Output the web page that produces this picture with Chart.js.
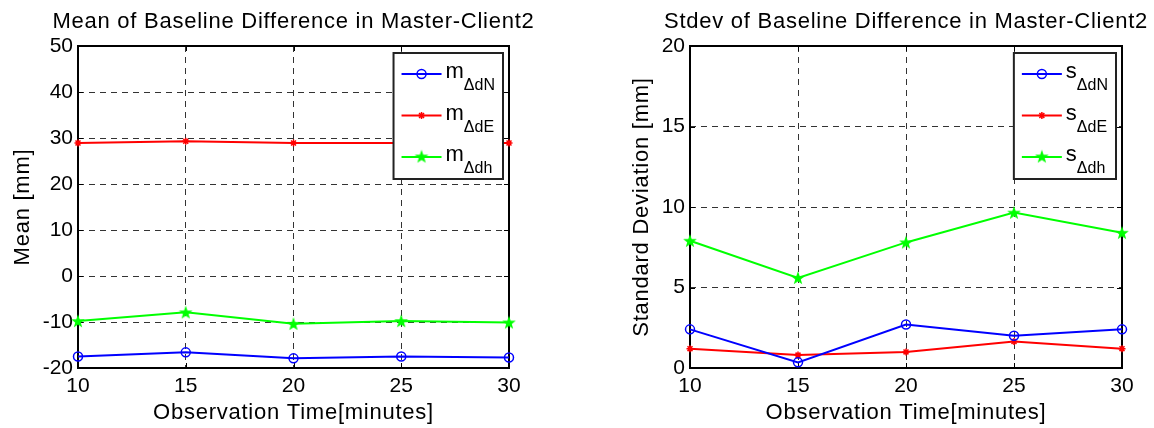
<!DOCTYPE html>
<html>
<head>
<meta charset="utf-8">
<script src="https://cdn.jsdelivr.net/npm/chart.js@4/dist/chart.umd.min.js"></script>
<style>
  body { margin: 0; background: #fff; width: 1154px; height: 428px; overflow: hidden; position: relative; }
  canvas { position: absolute; top: 0; }
  #meanChart { left: 0; }
  #stdChart { left: 600px; }
</style>
</head>
<body>
<canvas id="meanChart" width="600" height="428" style="width:600px;height:428px"></canvas>
<canvas id="stdChart" width="554" height="428" style="width:554px;height:428px"></canvas>
<script>
// observation times (x axis)
const minutes = [10, 15, 20, 25, 30];

// mean of baseline difference [mm]
const meanN = [-17.5, -16.6, -17.9, -17.5, -17.7];
const meanE = [28.9, 29.3, 28.9, 28.9, 28.9];
const meanH = [-9.8, -7.9, -10.4, -9.8, -10.1];

// standard deviation of baseline difference [mm]
const stdN = [2.4, 0.35, 2.7, 2.0, 2.4];
const stdE = [1.2, 0.8, 1.0, 1.65, 1.2];
const stdH = [7.9, 5.6, 7.8, 9.65, 8.4];

const meanTicks = [-20, -10, 0, 10, 20, 30, 40, 50];
const stdTicks = [0, 5, 10, 15, 20];
const timeTicks = [10, 15, 20, 25, 30];

const FONT = '"Liberation Sans", Arial, Helvetica, sans-serif';

// filled green pentagram used as marker
function makeStar(color) {
    const c = document.createElement("canvas");
    c.width = 16; c.height = 16;
    const g = c.getContext("2d");
    g.beginPath();
    for (let i = 0; i < 10; i++) {
        const r = i % 2 === 0 ? 7.2 : 2.9;
        const ang = -Math.PI / 2 + i * Math.PI / 5;
        const px = 8 + r * Math.cos(ang), py = 8.5 + r * Math.sin(ang);
        if (i === 0) g.moveTo(px, py); else g.lineTo(px, py);
    }
    g.closePath();
    g.fillStyle = color;
    g.fill();
    return c;
}
const starImg = makeStar("#00ff00");

function drawMarker(ctx, kind, x, y, color) {
    ctx.save();
    ctx.strokeStyle = color;
    if (kind === "circle") {
        ctx.lineWidth = 1.5;
        ctx.beginPath();
        ctx.arc(x, y, 4.5, 0, Math.PI * 2);
        ctx.stroke();
    } else if (kind === "asterisk") {
        ctx.lineWidth = 1.5;
        const r = 3.5, d = r * Math.SQRT1_2;
        ctx.beginPath();
        ctx.moveTo(x - r, y); ctx.lineTo(x + r, y);
        ctx.moveTo(x, y - r); ctx.lineTo(x, y + r);
        ctx.moveTo(x - d, y - d); ctx.lineTo(x + d, y + d);
        ctx.moveTo(x - d, y + d); ctx.lineTo(x + d, y - d);
        ctx.stroke();
    } else {
        ctx.drawImage(starImg, x - 8, y - 8.5);
    }
    ctx.restore();
}

const decor = {
    id: "decor",
    beforeDatasetsDraw(chart, args, o) {
        const { ctx, chartArea: a } = chart;
        ctx.save();
        ctx.strokeStyle = "#000";
        ctx.lineWidth = 2;
        ctx.strokeRect(a.left, a.top, a.right - a.left, a.bottom - a.top);
        ctx.lineWidth = 1;
        ctx.beginPath();
        chart.scales.x.ticks.forEach(t => {
            const x = Math.round(chart.scales.x.getPixelForValue(t.value)) + 0.5;
            ctx.moveTo(x, a.bottom); ctx.lineTo(x, a.bottom - 5);
            ctx.moveTo(x, a.top); ctx.lineTo(x, a.top + 5);
        });
        chart.scales.y.ticks.forEach(t => {
            const y = Math.round(chart.scales.y.getPixelForValue(t.value)) + 0.5;
            ctx.moveTo(a.left, y); ctx.lineTo(a.left + 5, y);
            ctx.moveTo(a.right, y); ctx.lineTo(a.right - 5, y);
        });
        ctx.stroke();
        ctx.restore();
    },
    afterDatasetsDraw(chart, args, o) {
        const { ctx, chartArea: a } = chart;
        const mainFont = "22px " + FONT, subFont = "16px " + FONT;
        ctx.save();
        let textW = 0;
        o.legend.forEach(e => {
            ctx.font = mainFont; const w1 = ctx.measureText(e.main).width;
            ctx.font = subFont; const w2 = ctx.measureText(e.sub).width;
            textW = Math.max(textW, w1 + w2);
        });
        const boxR = a.right - 6;
        const boxL = boxR - (8 + 40 + 4 + textW + 8);
        const boxT = a.top + 7, boxH = 126;
        ctx.fillStyle = "#fff";
        ctx.fillRect(boxL, boxT, boxR - boxL, boxH);
        ctx.strokeStyle = "#222";
        ctx.lineWidth = 2;
        ctx.strokeRect(boxL, boxT, boxR - boxL, boxH);
        o.legend.forEach((e, i) => {
            const y = boxT + 21 + i * 41.5;
            ctx.strokeStyle = e.color;
            ctx.lineWidth = 2;
            ctx.beginPath();
            ctx.moveTo(boxL + 8, y); ctx.lineTo(boxL + 48, y);
            ctx.stroke();
            drawMarker(ctx, e.marker, boxL + 28, y, e.color);
            ctx.fillStyle = "#000";
            ctx.textAlign = "left";
            ctx.textBaseline = "alphabetic";
            ctx.font = mainFont;
            ctx.fillText(e.main, boxL + 52, y + 4);
            const w1 = ctx.measureText(e.main).width;
            ctx.font = subFont;
            ctx.fillText(e.sub, boxL + 52 + w1, y + 16);
        });
        ctx.restore();
    },
    afterDraw(chart, args, o) {
        const { ctx, chartArea: a } = chart;
        const cx = (a.left + a.right) / 2;
        ctx.save();
        ctx.fillStyle = "#000";
        ctx.textAlign = "center";
        ctx.textBaseline = "alphabetic";
        ctx.font = "22px " + FONT;
        if ("letterSpacing" in ctx) ctx.letterSpacing = "0.75px";
        ctx.fillText(o.title, cx, 28);
        ctx.fillText(o.xLabel, cx, 419);
        ctx.translate(a.left - o.yLabelGap, (a.top + a.bottom) / 2);
        ctx.rotate(-Math.PI / 2);
        ctx.fillText(o.yLabel, 0, 0);
        ctx.restore();
    }
};

function series(ys) {
    return minutes.map((m, i) => ({ x: m, y: ys[i] }));
}

function lineSet(label, ys, color, style) {
    const set = {
        label: label,
        data: series(ys),
        borderColor: color,
        borderWidth: 2,
        backgroundColor: color,
        tension: 0,
        clip: false,
        pointBorderColor: color,
    };
    if (style === "circle") {
        set.pointStyle = "circle";
        set.pointRadius = 4.5;
        set.pointBorderWidth = 1.5;
        set.pointBackgroundColor = "rgba(0,0,0,0)";
    } else if (style === "asterisk") {
        set.pointStyle = "star";
        set.pointRadius = 3.5;
        set.pointBorderWidth = 1.5;
    } else {
        set.pointStyle = starImg;
        set.pointRadius = 7;
    }
    return set;
}

function makeChart(id, cfg) {
    const canvas = document.getElementById(id);
    const ticksFont = { family: FONT, size: 21 };
    return new Chart(canvas.getContext("2d"), {
        type: "line",
        data: {
            datasets: [
                lineSet(cfg.legend[0].main + cfg.legend[0].sub, cfg.n, "#0000ff", "circle"),
                lineSet(cfg.legend[1].main + cfg.legend[1].sub, cfg.e, "#ff0000", "asterisk"),
                lineSet(cfg.legend[2].main + cfg.legend[2].sub, cfg.h, "#00ff00", "pentagram"),
            ],
        },
        options: {
            responsive: false,
            animation: false,
            devicePixelRatio: 1,
            layout: { padding: { left: 0, top: 46, right: canvas.width - cfg.plotRight, bottom: 0 } },
            plugins: {
                legend: { display: false },
                tooltip: { enabled: false },
                decor: {
                    title: cfg.title,
                    xLabel: "Observation Time[minutes]",
                    yLabel: cfg.yLabel,
                    yLabelGap: cfg.yLabelGap,
                    legend: cfg.legend,
                },
            },
            scales: {
                x: {
                    type: "linear",
                    min: timeTicks[0],
                    max: timeTicks[timeTicks.length - 1],
                    afterBuildTicks: s => { s.ticks = timeTicks.map(v => ({ value: v })); },
                    afterFit: s => { s.height = 60; },
                    ticks: { color: "#000", font: ticksFont, padding: 6, maxRotation: 0, autoSkip: false },
                    grid: { color: "#333", lineWidth: 1, drawTicks: false },
                    border: { display: false, dash: [6, 5] },
                },
                y: {
                    type: "linear",
                    min: cfg.ticks[0],
                    max: cfg.ticks[cfg.ticks.length - 1],
                    afterBuildTicks: s => { s.ticks = cfg.ticks.map(v => ({ value: v })); },
                    afterFit: s => { s.width = cfg.plotLeft; },
                    ticks: { color: "#000", font: ticksFont, padding: 5, autoSkip: false },
                    grid: { color: "#333", lineWidth: 1, drawTicks: false },
                    border: { display: false, dash: [6, 5] },
                },
            },
        },
        plugins: [decor],
    });
}

makeChart("meanChart", {
    title: "Mean of Baseline Difference in Master-Client2",
    yLabel: "Mean [mm]",
    yLabelGap: 49,
    ticks: meanTicks,
    n: meanN, e: meanE, h: meanH,
    plotLeft: 78, plotRight: 509,
    legend: [
        { main: "m", sub: "\u0394dN", color: "#0000ff", marker: "circle" },
        { main: "m", sub: "\u0394dE", color: "#ff0000", marker: "asterisk" },
        { main: "m", sub: "\u0394dh", color: "#00ff00", marker: "pentagram" },
    ],
});

makeChart("stdChart", {
    title: "Stdev of Baseline Difference in Master-Client2",
    yLabel: "Standard Deviation [mm]",
    yLabelGap: 42,
    ticks: stdTicks,
    n: stdN, e: stdE, h: stdH,
    plotLeft: 90, plotRight: 522,
    legend: [
        { main: "s", sub: "\u0394dN", color: "#0000ff", marker: "circle" },
        { main: "s", sub: "\u0394dE", color: "#ff0000", marker: "asterisk" },
        { main: "s", sub: "\u0394dh", color: "#00ff00", marker: "pentagram" },
    ],
});
</script>
</body>
</html>
